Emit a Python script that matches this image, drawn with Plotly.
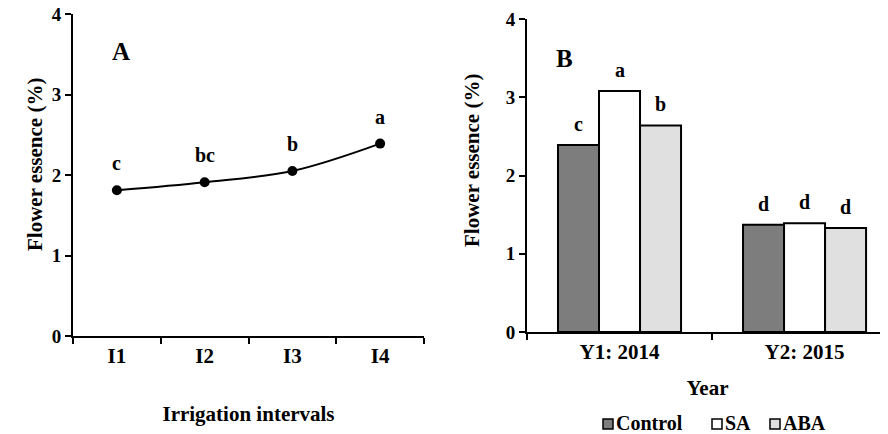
import plotly.graph_objects as go

# Panel A data
intervals = ["I1", "I2", "I3", "I4"]
essence_a = [1.81, 1.91, 2.05, 2.39]
letters_a = ["c", "bc", "b", "a"]

# Panel B data
years = ["Y1: 2014", "Y2: 2015"]
treatments = ["Control", "SA", "ABA"]
essence_b = {
    "Control": [2.39, 1.37],
    "SA": [3.08, 1.39],
    "ABA": [2.64, 1.33],
}
letters_b = {
    "Control": ["c", "d"],
    "SA": ["a", "d"],
    "ABA": ["b", "d"],
}
colors_b = {"Control": "#7d7d7d", "SA": "#ffffff", "ABA": "#e0e0e0"}
y_ticks = [0, 1, 2, 3, 4]

# ---- layout (pixels; the page adds an 8px body margin) ----
W, H = 880, 426
FONT = "Liberation Serif, Times New Roman, serif"


def px(x):
    return x / W


def py(y):
    return 1 - y / H


fig = go.Figure()

fig.add_trace(go.Scatter(
    x=intervals, y=essence_a, mode="lines+markers",
    line=dict(color="black", width=2, shape="spline", smoothing=1.0),
    marker=dict(color="black", size=10),
    xaxis="x", yaxis="y", showlegend=False,
))
for xi, yi, t in zip(intervals, essence_a, letters_a):
    fig.add_annotation(x=xi, y=yi, xref="x", yref="y", text=f"<b>{t}</b>", showarrow=False,
                       yshift=27, font=dict(family=FONT, size=20, color="black"))

for tr in treatments:
    fig.add_trace(go.Bar(
        x=years, y=essence_b[tr], name=tr,
        marker=dict(color=colors_b[tr], line=dict(color="black", width=2)),
        xaxis="x2", yaxis="y2", offsetgroup=tr, showlegend=False,
    ))

for i, tr in enumerate(treatments):
    for j, yr in enumerate(years):
        fig.add_annotation(x=j + (i - 1) * 0.222, y=essence_b[tr][j], xref="x2", yref="y2",
                           text=f"<b>{letters_b[tr][j]}</b>", showarrow=False, yshift=21,
                           font=dict(family=FONT, size=20, color="black"))

axis_common = dict(showline=True, linecolor="black", linewidth=2, showgrid=False,
                   zeroline=False, ticks="outside", ticklen=6, tickwidth=2, tickcolor="black",
                   automargin=False, ticklabeloverflow="allow")
xfont = dict(family=FONT, size=21, color="black")
yfont = dict(family=FONT, size=19, color="black")

fig.update_layout(
    width=W, height=H,
    margin=dict(l=0, r=0, t=0, b=0, autoexpand=False),
    paper_bgcolor="white", plot_bgcolor="white",
    barmode="group", bargap=0.335, bargroupgap=0,
    font=dict(family=FONT, color="black"),
    showlegend=False,
    xaxis=dict(domain=[px(65), px(416)], anchor="y", type="category",
               tickson="boundaries", range=[-0.5, 3.5], **axis_common, tickfont=xfont,
               tickvals=intervals, ticktext=[f"<b>{v}</b>" for v in intervals],
               title=dict(text="<b>Irrigation intervals</b>", standoff=39,
                          font=dict(family=FONT, size=21))),
    yaxis=dict(domain=[py(328), py(6)], anchor="x", range=[0, 4], tickfont=yfont,
               tickvals=y_ticks, ticktext=[f"<b>{v}</b>" for v in y_ticks], **axis_common),
    xaxis2=dict(domain=[px(519), 1.0], anchor="y2", type="category",
                tickson="boundaries", range=[-0.5, 1.451], **axis_common, tickfont=xfont,
                tickvals=years, ticktext=[f"<b>{v}</b>" for v in years],
                title=dict(text="<b>Year</b>", standoff=17,
                           font=dict(family=FONT, size=21))),
    yaxis2=dict(domain=[py(324), py(11)], anchor="x2", range=[0, 4], tickfont=yfont,
                tickvals=y_ticks, ticktext=[f"<b>{v}</b>" for v in y_ticks], **axis_common),
)

# y-axis titles (placed off-centre as in the original)
for xp, yp in [(13, 157), (464, 152)]:
    fig.add_annotation(x=px(xp), y=py(yp), xref="paper", yref="paper",
                       text="<b>Flower essence (%)</b>", textangle=-90, showarrow=False,
                       font=dict(family=FONT, size=21, color="black"))

fig.add_annotation(x=px(102), y=py(28), xref="paper", yref="paper", text="<b>A</b>",
                   showarrow=False, font=dict(family=FONT, size=25, color="black"))
fig.add_annotation(x=px(556), y=py(35), xref="paper", yref="paper", text="<b>B</b>",
                   showarrow=False, font=dict(family=FONT, size=25, color="black"))

# custom compact legend
legend_x = [595, 704, 762]
for tr, lx in zip(treatments, legend_x):
    fig.add_shape(type="rect", xref="paper", yref="paper",
                  x0=px(lx), x1=px(lx + 10), y0=py(421), y1=py(411),
                  fillcolor=colors_b[tr], line=dict(color="black", width=1.5))
    fig.add_annotation(x=px(lx + 11), y=py(415), xref="paper", yref="paper",
                       xanchor="left", yanchor="middle", text=f"<b>{tr}</b>",
                       showarrow=False, font=dict(family=FONT, size=20, color="black"))

fig.write_html("out.html")
